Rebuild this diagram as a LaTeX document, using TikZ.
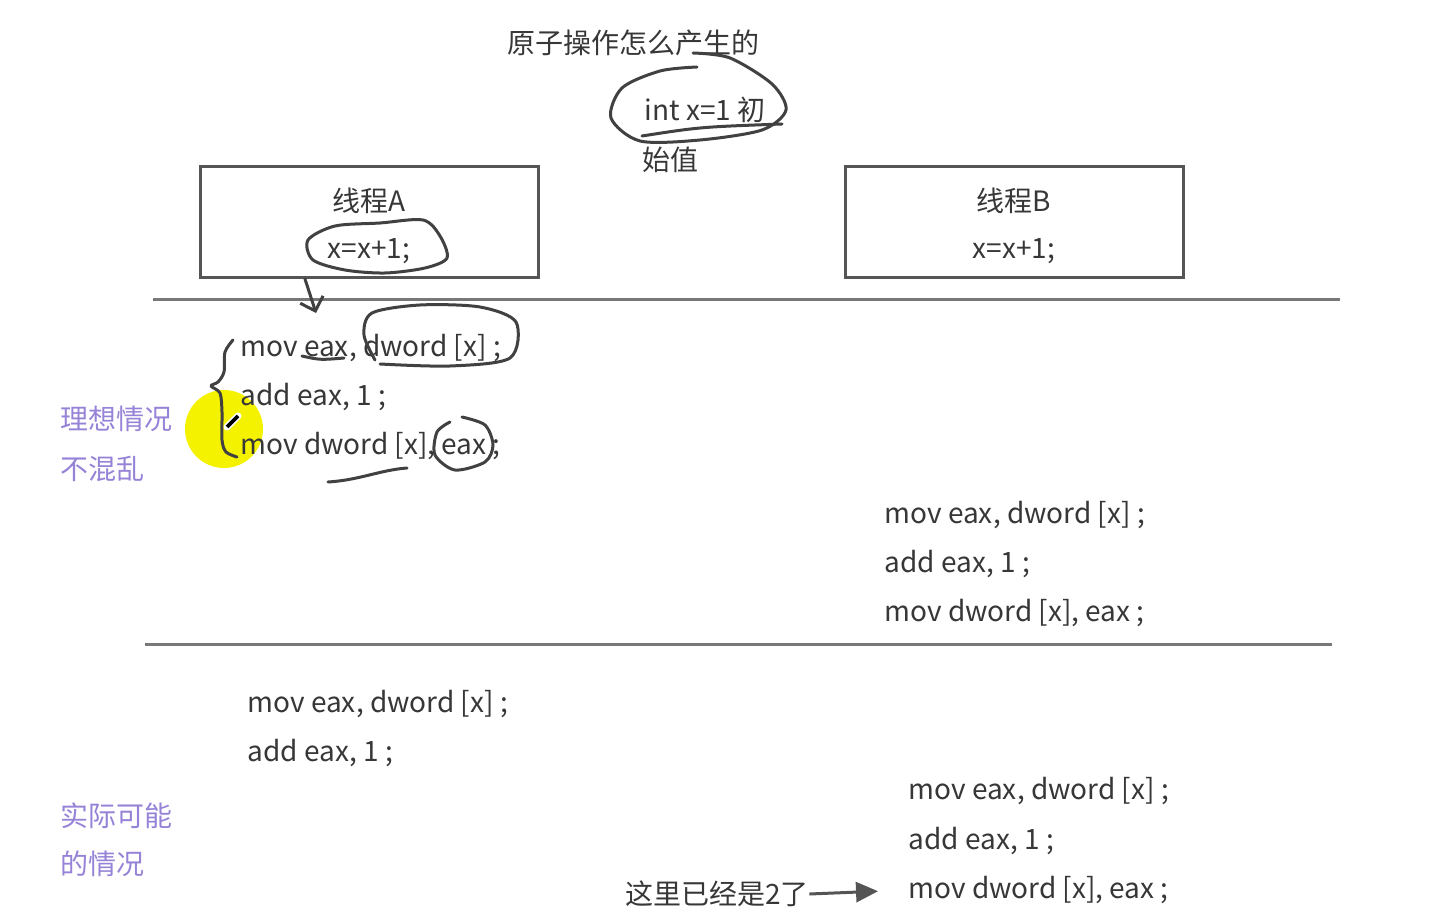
\documentclass[tikz,border=0pt]{standalone}
\usepackage{fontspec}
\setmainfont{Noto Sans CJK SC}
\usetikzlibrary{arrows.meta}

\definecolor{textgray}{RGB}{55,55,55}
\definecolor{boxgray}{RGB}{85,85,85}
\definecolor{rulegray}{RGB}{120,120,120}
\definecolor{inkgray}{RGB}{65,65,65}
\definecolor{notepurple}{RGB}{150,130,215}
\definecolor{marker}{RGB}{245,242,0}

\begin{document}
\begin{tikzpicture}[x=0.5pt,y=-0.5pt,
	txt/.style={text=textgray,font=\fontsize{14}{16}\selectfont,inner sep=0pt},
	code/.style={txt,anchor=west},
	note/.style={txt,text=notepurple,anchor=west},
	thread/.style={draw=boxgray,line width=1.5pt,minimum width=169pt,minimum height=55.5pt},
	pen/.style={draw=inkgray,line width=1.5pt,line cap=round,line join=round},
	rule/.style={draw=rulegray,line width=1.5pt}]
	\useasboundingbox (0,0) rectangle (1444,919);

	%% title and initial value
	\node [txt] (title) at (633,43) {原子操作怎么产生的};
	\node [txt] (init) at (705,110) {int x=1 初};
	\node [txt] (init2) at (670,160) {始值};

	%% the two threads
	\node [thread] (ta) at (369,222.5) {};
	\node [thread] (tb) at (1014,222.5) {};
	\node [txt] (ta name) at (369,201) {线程A};
	\node [txt] (ta stmt) at (369,251) {x=x+1;};
	\node [txt] (tb name) at (1014,201) {线程B};
	\node [txt] (tb stmt) at (1014,251) {x=x+1;};

	\coordinate (r1a) at (153,300);
	\coordinate (r1b) at (1340,300);
	\coordinate (r2a) at (145,644);
	\coordinate (r2b) at (1332,644);
	\draw [rule] (r1a) -- (r1b);
	\draw [rule] (r2a) -- (r2b);

	%% marker under the brace
	\fill [marker] (224,429) circle [radius=39];

	%% ideal case
	\node [code] (a1) at (240,348) {mov eax, dword [x] ;};
	\node [code] (a2) at (240,397) {add eax, 1 ;};
	\node [code] (a3) at (240,446) {mov dword [x], eax ;};
	\node [code] (b1) at (884,515) {mov eax, dword [x] ;};
	\node [code] (b2) at (884,564) {add eax, 1 ;};
	\node [code] (b3) at (884,613) {mov dword [x], eax ;};
	\node [note] (ideal) at (60,419) {理想情况};
	\node [note] (ideal2) at (60,469) {不混乱};

	%% real case
	\node [code] (c1) at (247,704) {mov eax, dword [x] ;};
	\node [code] (c2) at (247,753) {add eax, 1 ;};
	\node [code] (d1) at (908,791) {mov eax, dword [x] ;};
	\node [code] (d2) at (908,841) {add eax, 1 ;};
	\node [code] (d3) at (908,890) {mov dword [x], eax ;};
	\node [note] (real) at (60,816) {实际可能};
	\node [note] (real2) at (60,864) {的情况};
	\node [txt,anchor=west] (here) at (625,894) {这里已经是2了};
	\draw [draw=boxgray,line width=1.5pt,-{Triangle[length=11pt,width=10pt]},shorten >=15pt] (here.east) -- (d3.west);

	%% pen strokes
	\draw [pen] plot [smooth] coordinates {(693,53) (730,58) (772,84) (786,110) (762,130) (700,140) (640,141) (611,118) (622,88) (660,71) (697,67)};
	\draw [pen] (642,136) .. controls (700,127) .. (782,124);
	\draw [pen] plot [smooth cycle] coordinates {(447,258) (440,236) (423,220) (380,223) (335,226) (308,240) (313,260) (345,270) (385,273) (425,268)};
	\draw [pen,-{Straight Barb[length=6pt,width=12pt]}] (305,279) -- (316,313);
	\draw [pen] plot [smooth] coordinates {(375,360) (364,335) (372,313) (420,305) (480,307) (516,322) (510,358) (450,366) (380,364)};
	\draw [pen] (302,356) .. controls (320,360) .. (344,358);
	\draw [pen] plot [smooth] coordinates {(233,340) (225,352) (224,372) (218,382) (211,386) (220,393) (222,412) (222,440) (226,452) (237,457)};
	\draw [pen] plot [smooth] coordinates {(462,417) (485,425) (493,445) (485,462) (455,470) (435,455) (437,432) (450,422)};
	\draw [pen] (328,482) .. controls (360,480) and (380,470) .. (407,468);
	\draw [line width=3.5pt,white,line cap=round] (227,427) -- (238,416);
	\draw [line width=1.8pt,black] (227,427) -- (238,416);

\end{tikzpicture}
\end{document}
